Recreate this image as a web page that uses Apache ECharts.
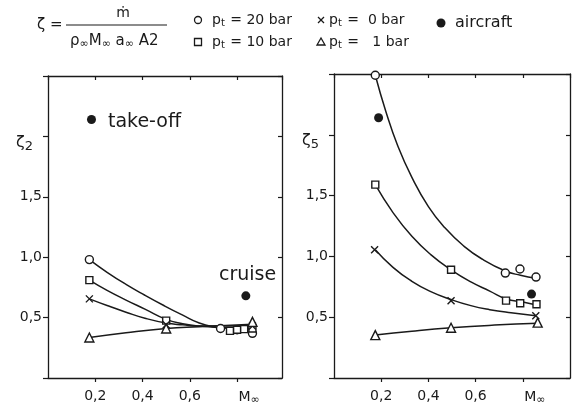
<!DOCTYPE html>
<html><head><meta charset="utf-8">
<script src="https://cdn.jsdelivr.net/npm/echarts@6/dist/echarts.min.js"></script>
<style>html,body{margin:0;padding:0;background:#fff}#c{width:579px;height:406px}</style>
</head><body><div id="c"></div>
<script>
// ---------- tick labels ----------
const xTickValues = [0.2, 0.4, 0.6, 0.8];
const xTickLabels = ['0,2', '0,4', '0,6', '{m|M}{s|∞}'];
const yTickValues = [0.5, 1.0, 1.5];
const yTickLabels = ['0,5', '1,0', '1,5'];

// ---------- left panel: zeta_2 ----------
const circ2Pts = [[0.175,0.98],[0.73,0.41],[0.80,0.40],[0.865,0.37]];
const circ2Curve = [[0.175,0.98],[0.25,0.875],[0.33,0.775],[0.41,0.685],[0.49,0.60],[0.57,0.52],[0.64,0.455],[0.70,0.425],[0.78,0.41],[0.865,0.40]];
const sq2Pts = [[0.175,0.81],[0.5,0.475],[0.77,0.39],[0.80,0.40],[0.83,0.405],[0.865,0.41]];
const sq2Curve = [[0.175,0.81],[0.25,0.725],[0.33,0.645],[0.41,0.57],[0.5,0.485],[0.57,0.45],[0.64,0.43],[0.75,0.415],[0.865,0.41]];
const x2Pts = [[0.175,0.655],[0.5,0.44],[0.865,0.43]];
const x2Curve = [[0.175,0.655],[0.25,0.60],[0.33,0.545],[0.41,0.495],[0.5,0.455],[0.57,0.44],[0.64,0.43],[0.75,0.43],[0.865,0.43]];
const tri2Pts = [[0.175,0.335],[0.5,0.41],[0.865,0.465]];
const tri2Curve = [[0.175,0.335],[0.33,0.375],[0.5,0.41],[0.64,0.425],[0.75,0.435],[0.865,0.445]];
const air2Pts = [[0.184,2.14],[0.837,0.68]];

// ---------- right panel: zeta_5 ----------
const circ5Pts = [[0.175,2.49],[0.726,0.863],[0.788,0.896],[0.856,0.83]];
const circ5Curve = [[0.175,2.49],[0.22,2.19],[0.27,1.91],[0.33,1.65],[0.40,1.41],[0.47,1.235],[0.55,1.085],[0.63,0.975],[0.726,0.88],[0.79,0.845],[0.856,0.82]];
const sq5Pts = [[0.175,1.59],[0.496,0.89],[0.729,0.636],[0.789,0.615],[0.858,0.606]];
const sq5Curve = [[0.175,1.59],[0.25,1.36],[0.33,1.165],[0.41,1.015],[0.496,0.89],[0.58,0.79],[0.66,0.715],[0.73,0.65],[0.80,0.625],[0.858,0.60]];
const x5Pts = [[0.172,1.055],[0.496,0.636],[0.855,0.512]];
const x5Curve = [[0.175,1.055],[0.25,0.91],[0.33,0.795],[0.41,0.71],[0.496,0.645],[0.58,0.595],[0.66,0.562],[0.75,0.536],[0.855,0.512]];
const tri5Pts = [[0.175,0.353],[0.496,0.413],[0.863,0.455]];
const tri5Curve = [[0.175,0.353],[0.33,0.385],[0.496,0.413],[0.68,0.435],[0.863,0.45]];
const air5Pts = [[0.189,2.14],[0.837,0.69]];

const INK = '#1a1a1a';
const FONT = 'DejaVu Sans';
const XSYM = 'path://M0,0L10,10M10,0L0,10';

function lookup(vals, labs, v) {
  for (let i = 0; i < vals.length; i++) if (Math.abs(vals[i] - v) < 1e-6) return labs[i];
  return '';
}
const axLine = {show: true, onZero: false, lineStyle: {color: INK, width: 1.3}};
const tickStyle = {color: INK, width: 1.2};

function axesFor(gi, xmax) {
  const xb = {type: 'value', gridIndex: gi, position: 'bottom', min: 0, max: xmax, interval: 0.2,
    axisLine: axLine, axisTick: {show: true, inside: false, length: 4, lineStyle: tickStyle},
    splitLine: {show: false},
    axisLabel: {show: true, margin: 11, fontSize: 14, color: INK, fontFamily: FONT,
      showMinLabel: false, showMaxLabel: false,
      formatter: v => lookup(xTickValues, xTickLabels, v),
      rich: {m: {fontSize: 14, fontFamily: FONT, color: INK, padding: [0, 0, 0, 24]},
             s: {fontSize: 11, fontFamily: FONT, color: INK, padding: [6, 0, 0, 0]}}}};
  const xt = {type: 'value', gridIndex: gi, position: 'top', min: 0, max: xmax, interval: 0.2,
    axisLine: axLine, axisTick: {show: true, inside: true, length: 4, lineStyle: tickStyle},
    splitLine: {show: false}, axisLabel: {show: false}};
  const yl = {type: 'value', gridIndex: gi, position: 'left', min: 0, max: 2.5, interval: 0.5,
    axisLine: axLine, axisTick: {show: true, inside: false, length: 5, lineStyle: tickStyle},
    splitLine: {show: false},
    axisLabel: {show: true, margin: 6, fontSize: 14, color: INK, fontFamily: FONT,
      formatter: v => lookup(yTickValues, yTickLabels, v)}};
  const yr = {type: 'value', gridIndex: gi, position: 'right', min: 0, max: 2.5, interval: 0.5,
    axisLine: axLine, axisTick: {show: true, inside: true, length: 4, lineStyle: tickStyle},
    splitLine: {show: false}, axisLabel: {show: false}};
  return {x: [xb, xt], y: [yl, yr]};
}
const A = axesFor(0, 0.99), B = axesFor(1, 1.0);

function curve(data, xi) {
  return {type: 'line', xAxisIndex: xi, yAxisIndex: xi, data: data, smooth: 0.5,
    symbol: 'none', showSymbol: false, silent: true, z: 2, lineStyle: {color: INK, width: 1.5}};
}
function marks(data, xi, sym, size) {
  const cross = sym === XSYM;
  return {type: 'scatter', xAxisIndex: xi, yAxisIndex: xi, data: data, symbol: sym, symbolSize: size,
    silent: true, z: 3,
    itemStyle: {color: cross ? 'rgba(0,0,0,0)' : '#fff', borderColor: INK, borderWidth: 1.4, opacity: 1}};
}
function dots(data, xi) {
  return {type: 'scatter', xAxisIndex: xi, yAxisIndex: xi, data: data, symbol: 'circle', symbolSize: 9,
    silent: true, z: 4, itemStyle: {color: INK, opacity: 1}};
}

const series = [
  curve(circ2Curve, 0), curve(sq2Curve, 0), curve(x2Curve, 0), curve(tri2Curve, 0),
  marks(circ2Pts, 0, 'circle', 8), marks(sq2Pts, 0, 'rect', 7), marks(x2Pts, 0, XSYM, 7), marks(tri2Pts, 0, 'triangle', 9),
  dots(air2Pts, 0),
  curve(circ5Curve, 2), curve(sq5Curve, 2), curve(x5Curve, 2), curve(tri5Curve, 2),
  marks(circ5Pts, 2, 'circle', 8), marks(sq5Pts, 2, 'rect', 7), marks(x5Pts, 2, XSYM, 7), marks(tri5Pts, 2, 'triangle', 9),
  dots(air5Pts, 2)
];

const txt = (x, y, text, size, align, rich) => ({type: 'text', x: x, y: y, silent: true,
  style: {text: text, fontSize: size, fontFamily: FONT, fill: INK, align: align || 'left', verticalAlign: 'middle', rich: rich}});
const ln = (x1, y1, x2, y2) => ({type: 'line', silent: true, shape: {x1, y1, x2, y2}, style: {stroke: INK, lineWidth: 1.2}});
const pRich = {p: {fontSize: 14, fontFamily: FONT, fill: INK}, t: {fontSize: 10, fontFamily: FONT, fill: INK, padding: [7, 1, 0, 0]}};
const subRich = {a: {fontSize: 15, fontFamily: FONT, fill: INK}, s: {fontSize: 11, fontFamily: FONT, fill: INK, padding: [6, 0, 0, 0]},
                 z: {fontSize: 16, fontFamily: FONT, fill: INK}, n: {fontSize: 13, fontFamily: FONT, fill: INK, padding: [8, 0, 0, 0]}};

const graphic = [
  txt(37, 25, 'ζ =', 15),
  ln(66, 25, 167, 25),
  txt(123, 13, 'ṁ', 14, 'center'),
  txt(70, 41, '{a|ρ}{s|∞}{a|M}{s|∞} {a|a}{s|∞} {a|A}{a|2}', 15, 'left', subRich),
  // legend
  {type: 'circle', silent: true, shape: {cx: 198, cy: 20, r: 3.5}, style: {fill: '#fff', stroke: INK, lineWidth: 1.3}},
  txt(212, 20, '{p|p}{t|t}{p| = 20 bar}', 14, 'left', pRich),
  {type: 'rect', silent: true, shape: {x: 194.5, y: 38.5, width: 7, height: 7}, style: {fill: '#fff', stroke: INK, lineWidth: 1.3}},
  txt(212, 42, '{p|p}{t|t}{p| = 10 bar}', 14, 'left', pRich),
  ln(318, 17, 324, 23), ln(324, 17, 318, 23),
  txt(329, 20, '{p|p}{t|t}{p| =  0 bar}', 14, 'left', pRich),
  {type: 'polygon', silent: true, shape: {points: [[321, 38], [317, 45], [325, 45]]}, style: {fill: '#fff', stroke: INK, lineWidth: 1.3}},
  txt(329, 42, '{p|p}{t|t}{p| =   1 bar}', 14, 'left', pRich),
  {type: 'circle', silent: true, shape: {cx: 441, cy: 23, r: 4.5}, style: {fill: INK}},
  txt(455, 23, 'aircraft', 16),
  // panel annotations
  txt(16, 143, '{z|ζ}{n|2}', 16, 'left', subRich),
  txt(302, 141, '{z|ζ}{n|5}', 16, 'left', subRich),
  txt(108, 122, 'take-off', 19),
  txt(219, 275, 'cruise', 19)
];

const chart = echarts.init(document.getElementById('c'), null, {renderer: 'canvas'});
chart.setOption({
  animation: false,
  backgroundColor: '#fff',
  grid: [
    {left: 48, top: 76, width: 234, height: 303},
    {left: 334, top: 74, width: 236, height: 304}
  ],
  xAxis: [A.x[0], A.x[1], B.x[0], B.x[1]],
  yAxis: [A.y[0], A.y[1], B.y[0], B.y[1]],
  series: series,
  graphic: graphic
});
</script></body></html>
